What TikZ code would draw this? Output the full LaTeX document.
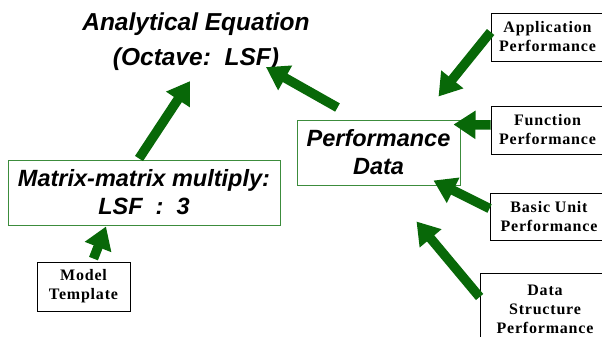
\documentclass[tikz,border=0pt]{standalone}
\usepackage{fontspec}
\setmainfont{Liberation Serif}
\newfontfamily\headfont{Liberation Sans}
\newfontfamily\boxfont{Liberation Serif}[LetterSpace=5]
\usetikzlibrary{arrows.meta}
\definecolor{arrowgreen}{RGB}{8,104,8}
\definecolor{boxgreen}{RGB}{60,140,60}
\tikzset{
  bigarrow/.style={draw=arrowgreen,line width=9.5pt,-{Triangle[width=27pt,length=22pt]}},
  headtext/.style={font=\headfont\bfseries\itshape\fontsize{23.5}{28}\selectfont,align=center,inner sep=0pt},
  greenbox/.style={headtext,draw=boxgreen,line width=1pt},
  infobox/.style={draw=black,line width=0.8pt,font=\boxfont\bfseries\fontsize{16}{19}\selectfont,align=center,inner sep=0pt},
}
\begin{document}
\begin{tikzpicture}[x=1pt,y=-1pt]
        \useasboundingbox (0,0) rectangle (602,337);
        \node[headtext,font=\headfont\bfseries\itshape\fontsize{24.5}{28}\selectfont] (eq) at (196,42) {Analytical Equation\\[7pt](Octave:~~LSF)};
        \node[greenbox,minimum width=272pt,minimum height=65pt] (mmm) at (144,192.5) {Matrix-matrix multiply:\\LSF~~:~~3};
        \node[infobox,minimum width=93pt,minimum height=49pt] (model) at (83.5,286.5) {Model\\Template};
        \node[greenbox,minimum width=163pt,minimum height=65pt] (perf) at (378.5,152.5) {Performance\\Data};
        \node[infobox,minimum width=113pt,minimum height=48pt] (app) at (547.5,37) {Application\\Performance};
        \node[infobox,minimum width=113pt,minimum height=48pt] (func) at (547.5,130) {Function\\Performance};
        \node[infobox,minimum width=118pt,minimum height=47pt] (basic) at (549,216.5) {Basic Unit\\Performance};
        \node[infobox,minimum width=130pt,minimum height=72pt] (ds) at (545,309) {Data\\Structure\\Performance};
        \draw[bigarrow] ([xshift=10pt,yshift=3pt]model.north) -- ([xshift=-38pt,yshift=-1pt]mmm.south);
        \draw[bigarrow] ([xshift=-5pt,yshift=1pt]mmm.north) -- ([xshift=-6pt,yshift=-10pt]eq.south);
        \draw[bigarrow] ([xshift=-41pt,yshift=12pt]perf.north) -- ([xshift=70pt,yshift=4pt]eq.south);
        \draw[bigarrow] ([yshift=5pt]app.west) -- ([xshift=60pt,yshift=23pt]perf.north);
        \draw[bigarrow] ([yshift=5pt]func.west) -- ([xshift=-7pt,yshift=-5pt]perf.north east);
        \draw[bigarrow] ([yshift=8pt]basic.west) -- ([xshift=-27pt,yshift=5pt]perf.south east);
        \draw[bigarrow] ([yshift=12pt]ds.west) -- ([xshift=38pt,yshift=-36pt]perf.south);
\end{tikzpicture}
\end{document}
